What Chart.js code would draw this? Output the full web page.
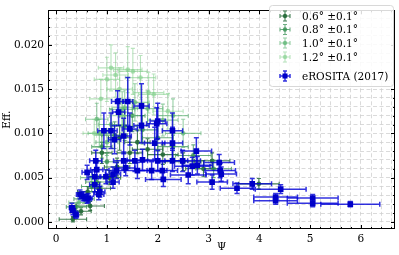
<!DOCTYPE html>
<html><head><meta charset="utf-8">
<script src="https://cdn.jsdelivr.net/npm/chart.js@4.4.0/dist/chart.umd.min.js"></script>
<style>html,body{margin:0;padding:0;background:#fff}#wrap{width:399px;height:255px}</style>
</head><body><div id="wrap"><canvas id="c" width="399" height="255"></canvas></div>
<script>
// ---- data ----
const xMajorTicks = [0,1,2,3,4,5,6];
const yMajorTicks = [0.000,0.005,0.010,0.015,0.020];
const seriesLabels = ['0.6° ±0.1°','0.8° ±0.1°','1.0° ±0.1°','1.2° ±0.1°','eROSITA (2017)'];

const g06X  = [0.33,0.49,0.67,0.62,0.85,1.05,1.20,1.45,1.80,2.10,2.50,2.90,3.07,3.99,1.60,1.25,0.90];
const g06Y  = [0.0003,0.0012,0.0018,0.0034,0.0038,0.0050,0.0062,0.0078,0.0082,0.0076,0.0068,0.0060,0.0069,0.0043,0.0090,0.0095,0.0078];
const g06XE = [0.27,0.2,0.28,0.2,0.22,0.22,0.25,0.25,0.3,0.3,0.35,0.35,0.35,0.4,0.25,0.22,0.2];
const g06YE = [0.0003,0.0004,0.0005,0.0006,0.0007,0.0008,0.0010,0.0012,0.0012,0.0011,0.0010,0.0009,0.0009,0.0006,0.0013,0.0014,0.0012];

const g08X  = [0.40,0.55,0.80,1.00,1.15,1.35,1.70,2.00,2.30,2.70,3.10,1.50,0.90,0.70];
const g08Y  = [0.0017,0.0026,0.0045,0.0068,0.0098,0.0108,0.0104,0.0095,0.0085,0.0075,0.0060,0.0120,0.0085,0.0040];
const g08XE = [0.2,0.2,0.22,0.22,0.25,0.25,0.3,0.3,0.3,0.35,0.35,0.25,0.2,0.2];
const g08YE = [0.0004,0.0005,0.0007,0.0010,0.0015,0.0016,0.0016,0.0015,0.0013,0.0012,0.0010,0.0018,0.0013,0.0006];

const g10X  = [0.45,0.70,0.85,1.08,1.30,1.55,1.80,2.10,2.50,0.80,1.35,2.30,1.00];
const g10Y  = [0.0022,0.0050,0.0100,0.0110,0.0127,0.0135,0.0128,0.0115,0.0100,0.0116,0.0129,0.0120,0.0090];
const g10XE = [0.2,0.22,0.22,0.25,0.25,0.28,0.3,0.3,0.35,0.22,0.25,0.3,0.22];
const g10YE = [0.0005,0.0008,0.0016,0.0018,0.0020,0.0021,0.0020,0.0018,0.0016,0.0018,0.0020,0.0019,0.0015];

const g12X  = [1.08,1.17,1.41,1.51,1.66,1.00,0.88,1.82,1.92,0.75,2.20,1.25,1.30];
const g12Y  = [0.0174,0.0166,0.0172,0.0170,0.0163,0.0161,0.0139,0.0146,0.0144,0.0100,0.0125,0.0150,0.0120];
const g12XE = [0.25,0.25,0.28,0.28,0.3,0.25,0.22,0.3,0.3,0.22,0.3,0.25,0.25];
const g12YE = [0.0026,0.0025,0.0026,0.0026,0.0025,0.0025,0.0022,0.0023,0.0023,0.0016,0.0020,0.0024,0.0019];

const blueX  = [0.31,0.33,0.39,0.47,0.53,0.61,0.63,0.84,0.86,0.76,1.12,0.61,0.76,0.98,1.12,1.19,0.80,0.78,1.37,1.33,1.55,1.60,1.70,1.88,2.00,2.09,2.11,2.29,2.49,2.60,2.68,2.78,3.07,3.21,3.23,3.25,3.56,3.86,4.42,4.32,4.32,5.05,5.05,5.79,0.94,1.08,1.21,1.41,1.68,1.23,2.00,1.68,1.98,2.29,1.94,2.29,2.76,1.33,1.45,1.15];
const blueY  = [0.0016,0.0013,0.0008,0.0031,0.0029,0.0026,0.0027,0.0031,0.0034,0.0042,0.0045,0.0056,0.0051,0.0051,0.0054,0.0058,0.0059,0.0069,0.0061,0.0069,0.0069,0.0058,0.0070,0.0058,0.0069,0.0058,0.0048,0.0069,0.0069,0.0053,0.0063,0.0064,0.0045,0.0067,0.0058,0.0054,0.0038,0.0043,0.0037,0.0028,0.0024,0.0027,0.0021,0.0020,0.0103,0.0103,0.0136,0.0136,0.0131,0.0124,0.0114,0.0109,0.0111,0.0103,0.0089,0.0089,0.0080,0.0097,0.0105,0.0093];
const blueXE = [0.05,0.05,0.05,0.07,0.07,0.08,0.08,0.1,0.1,0.1,0.12,0.1,0.12,0.12,0.15,0.15,0.12,0.12,0.18,0.2,0.25,0.25,0.3,0.3,0.3,0.3,0.35,0.3,0.35,0.35,0.35,0.3,0.3,0.3,0.3,0.3,0.33,0.38,0.5,0.43,0.43,0.5,0.5,0.58,0.12,0.12,0.12,0.1,0.15,0.12,0.15,0.15,0.2,0.2,0.2,0.2,0.3,0.15,0.15,0.12];
const blueYE = [0.0005,0.0005,0.0004,0.0005,0.0005,0.0005,0.0005,0.0006,0.0006,0.0008,0.0007,0.0008,0.0008,0.0008,0.0008,0.0009,0.0010,0.0012,0.0009,0.0010,0.0012,0.0009,0.0012,0.0010,0.0012,0.0010,0.0008,0.0012,0.0012,0.0010,0.0010,0.0010,0.0008,0.0009,0.0008,0.0008,0.0006,0.0006,0.0005,0.0004,0.0004,0.0004,0.0004,0.0003,0.0020,0.0020,0.0012,0.0027,0.0025,0.0015,0.0020,0.0020,0.0018,0.0020,0.0018,0.0018,0.0015,0.0020,0.0018,0.0016];

// ---- styles ----
const colors = ['rgba(35,105,55,0.85)','rgba(45,140,75,0.7)','rgba(80,175,105,0.6)','rgba(125,205,135,0.55)','rgba(0,0,215,0.8)'];
const markerColors = ['rgba(35,105,55,0.9)','rgba(45,140,75,0.75)','rgba(80,175,105,0.65)','rgba(125,205,135,0.6)','#0000c8'];

function pts(xs, ys, xe, ye){ return xs.map((x,i)=>({x:x, y:ys[i], xe:xe[i], ye:ye[i]})); }

const seriesData = [
  pts(g06X,g06Y,g06XE,g06YE),
  pts(g08X,g08Y,g08XE,g08YE),
  pts(g10X,g10Y,g10XE,g10YE),
  pts(g12X,g12Y,g12XE,g12YE),
  pts(blueX,blueY,blueXE,blueYE)
];

const FONT = "'DejaVu Serif', serif";

function isMajor(v, step){ const r = v/step; return Math.abs(r-Math.round(r))<1e-6; }

const errorBarPlugin = {
  id:'errbars',
  beforeDatasetDraw(chart, args){
    const ds = chart.data.datasets[args.index];
    const xs = chart.scales.x, ys = chart.scales.y, ctx = chart.ctx, a = chart.chartArea;
    ctx.save();
    ctx.beginPath(); ctx.rect(a.left,a.top,a.right-a.left,a.bottom-a.top); ctx.clip();
    ctx.strokeStyle = ds.errColor; ctx.lineWidth = ds.errWidth;
    const cap = ds.capHalf;
    ds.data.forEach(p=>{
      const px = xs.getPixelForValue(p.x), py = ys.getPixelForValue(p.y);
      const x1 = xs.getPixelForValue(p.x-p.xe), x2 = xs.getPixelForValue(p.x+p.xe);
      const y1 = ys.getPixelForValue(p.y-p.ye), y2 = ys.getPixelForValue(p.y+p.ye);
      ctx.beginPath();
      ctx.moveTo(x1,py); ctx.lineTo(x2,py);
      ctx.moveTo(px,y1); ctx.lineTo(px,y2);
      ctx.moveTo(x1,py-cap); ctx.lineTo(x1,py+cap);
      ctx.moveTo(x2,py-cap); ctx.lineTo(x2,py+cap);
      ctx.moveTo(px-cap,y1); ctx.lineTo(px+cap,y1);
      ctx.moveTo(px-cap,y2); ctx.lineTo(px+cap,y2);
      ctx.stroke();
    });
    ctx.restore();
  }
};

const framePlugin = {
  id:'frame',
  afterDraw(chart){
    const ctx = chart.ctx, a = chart.chartArea, xs = chart.scales.x, ys = chart.scales.y;
    ctx.save();
    ctx.strokeStyle = '#000'; ctx.lineWidth = 1;
    ctx.beginPath();
    xs.ticks.forEach(t=>{
      const px = Math.round(xs.getPixelForValue(t.value))+0.5;
      const L = isMajor(t.value,1) ? 4 : 2;
      ctx.moveTo(px,a.bottom); ctx.lineTo(px,a.bottom-L);
      ctx.moveTo(px,a.top); ctx.lineTo(px,a.top+L);
    });
    ys.ticks.forEach(t=>{
      const py = Math.round(ys.getPixelForValue(t.value))+0.5;
      const L = isMajor(t.value,0.005) ? 4 : 2;
      ctx.moveTo(a.left,py); ctx.lineTo(a.left+L,py);
      ctx.moveTo(a.right,py); ctx.lineTo(a.right-L,py);
    });
    ctx.stroke();
    ctx.strokeRect(Math.round(a.left)+0.5, Math.round(a.top)+0.5, Math.round(a.right-a.left)-1, Math.round(a.bottom-a.top)-1);

    // legend
    const bx=269, by=5, bw=124, bh=81;
    ctx.fillStyle='rgba(255,255,255,0.85)';
    ctx.strokeStyle='#d8d8d8'; ctx.lineWidth=1;
    ctx.beginPath();
    if (ctx.roundRect) ctx.roundRect(bx+0.5,by+0.5,bw,bh,3); else ctx.rect(bx+0.5,by+0.5,bw,bh);
    ctx.fill(); ctx.stroke();
    const rowsY = [16,29.5,43,57,76];
    ctx.font = "10.5px " + FONT; ctx.textBaseline='middle'; ctx.textAlign='left';
    chart.data.datasets.slice().sort((p,q)=>p.legendIdx-q.legendIdx).forEach((ds,i)=>{
      const cy = rowsY[i], cx = 285;
      ctx.strokeStyle = ds.errColor; ctx.lineWidth = ds.errWidth;
      ctx.beginPath();
      ctx.moveTo(cx-5,cy); ctx.lineTo(cx+5,cy);
      ctx.moveTo(cx,cy-5); ctx.lineTo(cx,cy+5);
      ctx.moveTo(cx-5,cy-2); ctx.lineTo(cx-5,cy+2);
      ctx.moveTo(cx+5,cy-2); ctx.lineTo(cx+5,cy+2);
      ctx.moveTo(cx-2,cy-5); ctx.lineTo(cx+2,cy-5);
      ctx.moveTo(cx-2,cy+5); ctx.lineTo(cx+2,cy+5);
      ctx.stroke();
      ctx.fillStyle = ds.pointBackgroundColor;
      if (ds.pointStyle==='rect') ctx.fillRect(cx-2.5,cy-2.5,5,5);
      else { ctx.beginPath(); ctx.arc(cx,cy,2.2,0,Math.PI*2); ctx.fill(); }
      ctx.fillStyle='#000';
      ctx.fillText(ds.label, 302, cy+1);
    });
    ctx.restore();
  }
};

const orders = [4,3,2,1,0];
const datasets = seriesData.map((d,i)=>({
  label: seriesLabels[i],
  data: d,
  legendIdx: i,
  order: orders[i],
  errColor: colors[i],
  errWidth: i===4 ? 1.5 : 1.1,
  capHalf: i===4 ? 2.5 : 2,
  pointStyle: i===4 ? 'rect' : 'circle',
  pointRadius: i===4 ? 4 : 2.4,
  pointBackgroundColor: markerColors[i],
  pointBorderWidth: 0,
  pointBorderColor: markerColors[i],
  showLine:false
}));

new Chart(document.getElementById('c'), {
  type:'scatter',
  data:{datasets},
  plugins:[errorBarPlugin, framePlugin],
  options:{
    responsive:false, animation:false, devicePixelRatio:1,
    layout:{padding:{top:2,right:2,left:0,bottom:0}},
    plugins:{legend:{display:false}, tooltip:{enabled:false}},
    scales:{
      x:{
        type:'linear', min:-0.16, max:6.67,
        afterBuildTicks(s){
          const t=[]; for(let k=0; k<=33; k++){ const v=Math.round(k*0.2*1000)/1000; if(v>=s.min && v<=s.max) t.push({value:v}); }
          s.ticks=t;
        },
        afterFit(s){ s.height=26; },
        grid:{color:'#d0d0d0', lineWidth:0.8, drawTicks:false},
        border:{display:false, dash:[4,2.5]},
        ticks:{padding:4, color:'#000', font:{family:FONT, size:10.5}, maxRotation:0, autoSkip:false,
          callback(v){ return xMajorTicks.some(m=>Math.abs(m-v)<1e-6) ? String(Math.round(v)) : ''; }},
        title:{display:true, text:'Ψ', color:'#000', font:{family:FONT, size:10.5}, padding:{top:0,bottom:1}}
      },
      y:{
        type:'linear', min:-0.0008, max:0.0239,
        afterBuildTicks(s){
          const t=[]; for(let k=0; k<=23; k++){ const v=Math.round(k*0.001*1e6)/1e6; if(v>=s.min && v<=s.max) t.push({value:v}); }
          s.ticks=t;
        },
        afterFit(s){ s.width=48; },
        grid:{color:'#d0d0d0', lineWidth:0.8, drawTicks:false},
        border:{display:false, dash:[4,2.5]},
        ticks:{padding:4, color:'#000', font:{family:FONT, size:10.5}, autoSkip:false,
          callback(v){ return yMajorTicks.some(m=>Math.abs(m-v)<1e-9) ? v.toFixed(3) : ''; }},
        title:{display:true, text:'Eff.', color:'#000', font:{family:FONT, size:10.5}, padding:{top:1,bottom:0}}
      }
    }
  }
});
</script></body></html>
